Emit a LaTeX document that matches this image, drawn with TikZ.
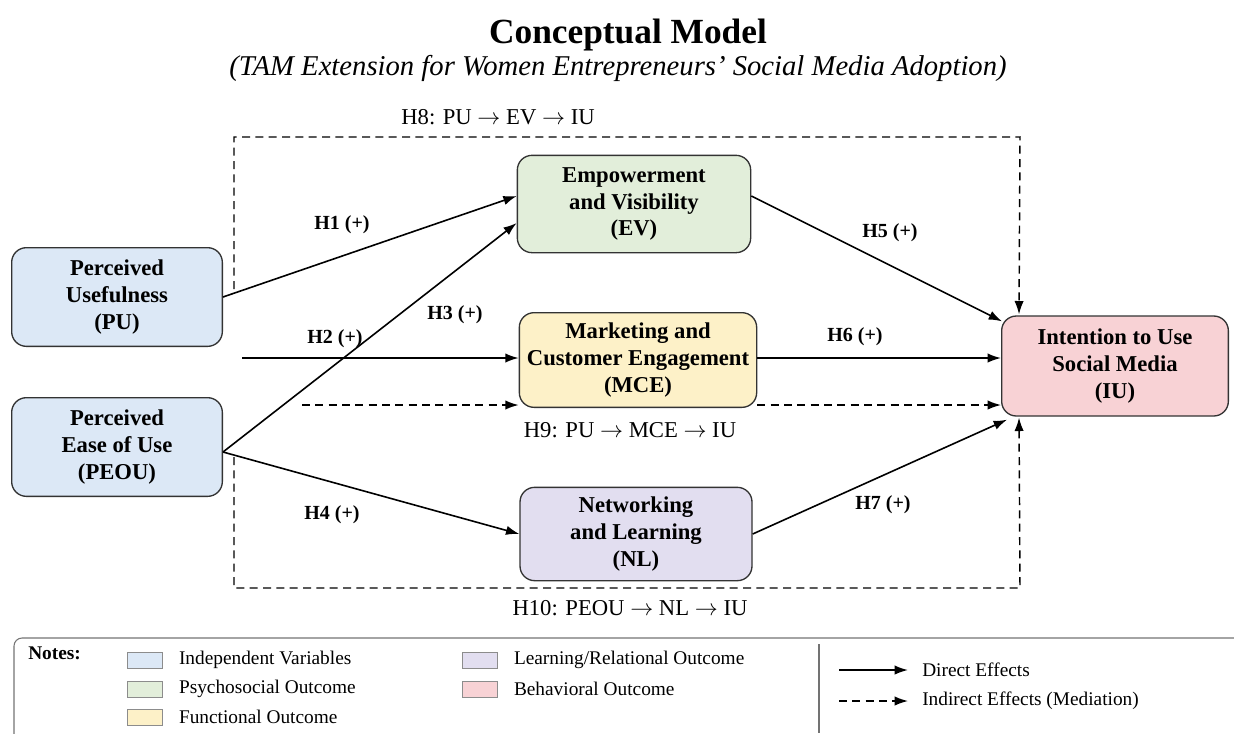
\documentclass[tikz,border=0pt]{standalone}
\usepackage{fontspec}
\setmainfont{Liberation Serif}
\usepackage{tikz}
\usetikzlibrary{arrows.meta, positioning, calc}
\definecolor{indepfill}{HTML}{DCE8F6}
\definecolor{psyfill}{HTML}{E2EEDA}
\definecolor{funcfill}{HTML}{FDF1C8}
\definecolor{learnfill}{HTML}{E2DEF0}
\definecolor{behavfill}{HTML}{F8D2D5}
\definecolor{edge}{HTML}{333333}
\tikzset{
  construct/.style={draw=edge, line width=1pt, rounded corners=11pt, align=center, font=\fontsize{17}{20}\selectfont\bfseries, inner sep=2pt},
  hyp/.style={font=\fontsize{15}{18}\selectfont\bfseries},
  medlabel/.style={font=\fontsize{17}{20}\selectfont},
  direct/.style={-{Latex[length=10pt, width=7pt]}, line width=1.2pt},
  indirect/.style={-{Latex[length=10pt, width=7pt]}, line width=1.1pt, dash pattern=on 6pt off 4pt},
  swatch/.style={draw=black!45, line width=0.6pt, minimum width=26pt, minimum height=12pt, inner sep=0pt},
  legtext/.style={font=\fontsize{14.5}{16}\selectfont, anchor=west, inner sep=0pt}
}

\begin{document}
\begin{tikzpicture}[x=0.75pt, y=-0.75pt]
    \useasboundingbox (0,0) rectangle (1234,733);

    % title
    \node[font=\fontsize{26.5}{30}\selectfont\bfseries] (title) at (628,35) {Conceptual Model};
    \node[font=\fontsize{21.5}{24}\selectfont\itshape] (subtitle) at (618,68) {(TAM Extension for Women Entrepreneurs' Social Media Adoption)};

    % constructs
    \node[construct, fill=indepfill, minimum width=158pt, minimum height=74pt] (pu) at (117,297) {Perceived\\Usefulness\\(PU)};
    \node[construct, fill=indepfill, minimum width=158pt, minimum height=74pt] (peou) at (117,447) {Perceived\\Ease of Use\\(PEOU)};
    \node[construct, fill=psyfill, minimum width=175pt, minimum height=73pt] (ev) at (634,204) {Empowerment\\and Visibility\\(EV)};
    \node[construct, fill=funcfill, minimum width=178pt, minimum height=71pt] (mce) at (638,360) {Marketing and\\Customer Engagement\\(MCE)};
    \node[construct, fill=learnfill, minimum width=174pt, minimum height=70pt] (nl) at (636,534) {Networking\\and Learning\\(NL)};
    \node[construct, fill=behavfill, minimum width=170pt, minimum height=75pt] (iu) at (1115,366) {Intention to Use\\Social Media\\(IU)};

    % free ends
    \coordinate (h2start) at (242,358);
    \coordinate (h6start) at ($(mce.east)+(0,-2)$);
    \coordinate (h8start) at (234,289);
    \coordinate (h8top) at (1020,137);
    \coordinate (h9start) at (302,405);
    \coordinate (h9mid) at ($(mce.east)+(0,45)$);
    \coordinate (h10start) at (234,457);
    \coordinate (h10bot) at (1020,588);

    % direct effects
    \draw[direct] (pu.east) -- ($(ev.west)+(0,-8)$);
    \draw[direct] (h2start) -- (h2start -| mce.west);
    \draw[direct] ($(peou.east)+(0,5)$) -- ($(ev.west)+(0,19)$);
    \draw[direct] ($(peou.east)+(0,5)$) -- (nl.west);
    \draw[direct] ($(ev.east)+(0,-8)$) -- ($(iu.north west)+(1,6)$);
    \draw[direct] (h6start) -- (h6start -| iu.west);
    \draw[direct] (nl.east) -- ($(iu.south west)+(6,3)$);

    % indirect effects
    \draw[indirect] (h8start) |- (h8top) -- ($(iu.north west)+(18,-1)$);
    \draw[indirect] (h9start) -- (h9start -| mce.west);
    \draw[indirect] (h9mid) -- (h9mid -| iu.west);
    \draw[indirect] (h10start) |- (h10bot) -- ($(iu.south west)+(18,1)$);

    % hypothesis labels
    \node[hyp] (h1) at (342,225) {H1 (+)};
    \node[hyp] (h2) at (335,339) {H2 (+)};
    \node[hyp] (h3) at (455,315) {H3 (+)};
    \node[hyp] (h4) at (332,515) {H4 (+)};
    \node[hyp] (h5) at (890,233) {H5 (+)};
    \node[hyp] (h6) at (855,337) {H6 (+)};
    \node[hyp] (h7) at (883,505) {H7 (+)};
    \node[medlabel] (h8) at (498,117) {H8: PU $\rightarrow$ EV $\rightarrow$ IU};
    \node[medlabel] (h9) at (630,430) {H9: PU $\rightarrow$ MCE $\rightarrow$ IU};
    \node[medlabel] (h10) at (630,608) {H10: PEOU $\rightarrow$ NL $\rightarrow$ IU};

    % legend
    \draw[black!55, line width=0.8pt, rounded corners=6pt] (1240,638) -- (14,638) -- (14,740);
    \draw[black!55, line width=0.8pt] (819,644) -- (819,733);
    \node[font=\fontsize{14.5}{16}\selectfont\bfseries, anchor=north west, inner sep=0pt] (notes) at (28,647) {Notes:};
    \node[swatch, fill=indepfill] (sw1) at (145,660) {};
    \node[swatch, fill=psyfill] (sw2) at (145,689) {};
    \node[swatch, fill=funcfill] (sw3) at (145,717) {};
    \node[swatch, fill=learnfill] (sw4) at (480,660) {};
    \node[swatch, fill=behavfill] (sw5) at (480,689) {};
    \node[legtext, right=12pt of sw1] (lt1) {Independent Variables};
    \node[legtext, right=12pt of sw2] (lt2) {Psychosocial Outcome};
    \node[legtext, right=12pt of sw3] (lt3) {Functional Outcome};
    \node[legtext, right=12pt of sw4] (lt4) {Learning/Relational Outcome};
    \node[legtext, right=12pt of sw5] (lt5) {Behavioral Outcome};
    \coordinate (ld1) at (839,670);
    \coordinate (ld2) at (839,701);
    \node[legtext] (lt6) at (922,670) {Direct Effects};
    \node[legtext] (lt7) at (922,701) {Indirect Effects (Mediation)};
    \draw[direct] (ld1) -- ($(lt6.west)+(-14,0)$);
    \draw[indirect] (ld2) -- ($(lt7.west)+(-14,0)$);
\end{tikzpicture}
\end{document}
